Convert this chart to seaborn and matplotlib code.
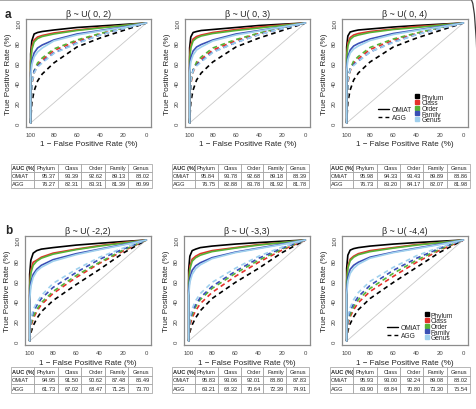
import matplotlib
matplotlib.use("Agg")
import matplotlib.pyplot as plt
from matplotlib.lines import Line2D
from matplotlib.patches import FancyBboxPatch
from matplotlib.transforms import IdentityTransform
import seaborn as sns

# ---- data -------------------------------------------------------------
ranks = ["Phylum", "Class", "Order", "Family", "Genus"]
rank_colors = ["#000000", "#E4312B", "#56B236", "#3A50B5", "#9FD0EE"]
titles = ["β ~ U( 0, 2)", "β ~ U( 0, 3)", "β ~ U( 0, 4)",
          "β ~ U( -2,2)", "β ~ U( -3,3)", "β ~ U( -4,4)"]

# 1 - false positive rate (%) at which the curves were read
spec = [100, 100, 99, 97, 94, 90, 80, 60, 40, 20, 0]

# true positive rate (%), one row per rank (Phylum..Genus)
omiat_a1 = [[0, 69, 82, 89, 90.5, 91.5, 93, 95.5, 97, 98.5, 100],
            [0, 62, 76, 83, 86, 87.5, 90, 93, 95.5, 97.5, 100],
            [0, 60, 73, 81, 84.5, 86.5, 89, 92.5, 95, 97.5, 100],
            [0, 50, 62, 70, 75, 78, 83, 89, 92.5, 96, 100],
            [0, 45, 58, 66, 71, 75, 82, 88, 92, 95.5, 100]]
agg_a1 = [[0, 0, 20, 32, 42, 49, 60, 76, 85, 92.5, 100],
          [0, 0, 38, 50, 58, 63, 72.5, 82, 89, 95, 100],
          [0, 0, 40, 52, 60, 65, 74, 83, 89.5, 95, 100],
          [0, 0, 42, 52, 57, 61, 70, 80, 88, 94.5, 100],
          [0, 0, 40, 50, 56, 60, 69.5, 79.5, 88, 94.5, 100]]

omiat_a2 = [[0, 75, 86, 90.5, 91.5, 92.5, 93.5, 95.5, 97.5, 98.8, 100],
            [0, 66, 78, 84, 86.5, 88, 90.5, 93.5, 96, 98, 100],
            [0, 63, 75, 82, 85, 87, 89.5, 92.5, 95, 97.5, 100],
            [0, 55, 65, 72, 76, 78.5, 83, 89, 92.5, 96, 100],
            [0, 50, 61, 68, 73, 76, 82, 88, 92, 96, 100]]
agg_a2 = [[0, 0, 21, 33, 43, 50, 61, 76, 85, 92.5, 100],
          [0, 0, 39, 51, 59, 64, 73, 82.5, 89.5, 95, 100],
          [0, 0, 41, 53, 61, 66, 75, 83.5, 90, 95.5, 100],
          [0, 0, 43, 53, 58, 62, 71, 80.5, 88.5, 94.5, 100],
          [0, 0, 42, 52, 57, 61, 70.5, 80.5, 88.5, 94.5, 100]]

omiat_a3 = [[0, 76, 87, 91, 92, 93, 94, 96, 97.5, 98.8, 100],
            [0, 68, 80, 85.5, 88, 89.5, 91.5, 94, 96.5, 98, 100],
            [0, 65, 77, 83.5, 86.5, 88, 90.5, 93.5, 95.5, 97.8, 100],
            [0, 56, 66, 73, 77, 79.5, 84, 89.5, 93, 96.5, 100],
            [0, 52, 63, 70, 74, 77, 82.5, 88.5, 92.5, 96, 100]]
agg_a3 = [[0, 0, 21, 33, 43, 50, 61, 76, 85, 92.5, 100],
          [0, 0, 40, 52, 60, 64.5, 73.5, 83, 89.5, 95, 100],
          [0, 0, 42, 54, 62, 66.5, 75.5, 84, 90, 95.5, 100],
          [0, 0, 44, 54, 58.5, 62, 71, 81, 88.5, 94.5, 100],
          [0, 0, 43, 53, 57.5, 61.5, 71, 80.5, 88.5, 94.5, 100]]

omiat_b1 = [[0, 66, 80, 87, 89.5, 91, 92.5, 95, 96.8, 98.5, 100],
            [0, 55, 70, 78, 80, 83, 87, 91, 94.5, 97.5, 100],
            [0, 52, 67, 75, 79, 82, 86, 90.5, 94, 97, 100],
            [0, 45, 58, 66, 71, 75, 80.5, 86.5, 91, 95.5, 100],
            [0, 40, 54, 63, 69, 73, 79, 85.5, 90.5, 95, 100]]
agg_b1 = [[0, 0, 8, 15, 22, 29, 40, 56, 71, 87, 100],
          [0, 0, 14, 22, 29, 36, 47, 63, 77, 89, 100],
          [0, 0, 16, 24, 31, 38, 49, 65, 78, 90, 100],
          [0, 0, 20, 28, 35, 42, 53, 68, 81, 91, 100],
          [0, 0, 22, 31, 38, 45, 57, 71, 83, 92, 100]]

omiat_b2 = [[0, 70, 84, 89.5, 91, 92.5, 94, 96, 97.5, 98.8, 100],
            [0, 60, 74, 81, 84, 86.5, 89.5, 92.5, 95.5, 97.5, 100],
            [0, 57, 71, 79, 82.5, 85, 88.5, 92, 95, 97.5, 100],
            [0, 50, 62, 70, 74.5, 77.5, 82.5, 88, 92, 96, 100],
            [0, 45, 58, 66, 71.5, 75.5, 81.5, 87.5, 91.5, 95.5, 100]]
agg_b2 = [[0, 0, 9, 16, 23, 30, 42, 58, 72, 87.5, 100],
          [0, 0, 15, 23, 30, 37, 48, 64, 78, 90, 100],
          [0, 0, 18, 26, 34, 41, 52, 67, 80, 91, 100],
          [0, 0, 21, 29, 36, 43, 54, 69, 82, 92, 100],
          [0, 0, 23, 32, 40, 47, 58, 72, 84, 93, 100]]

omiat_b3 = [[0, 72, 85, 90, 91.5, 92.5, 94, 96, 97.5, 98.8, 100],
            [0, 60, 74, 81, 84, 86.5, 89.5, 92.5, 95.5, 97.5, 100],
            [0, 58, 72, 79.5, 83, 85.5, 88.5, 92, 95, 97.5, 100],
            [0, 51, 63, 71, 75, 78, 83, 88, 92, 96, 100],
            [0, 46, 59, 67, 72, 76, 82, 87.5, 91.5, 95.5, 100]]
agg_b3 = [[0, 0, 10, 17, 24, 31, 42, 58, 73, 88, 100],
          [0, 0, 16, 24, 31, 38, 49, 64, 78, 90, 100],
          [0, 0, 18, 26, 34, 41, 52, 67, 80, 91, 100],
          [0, 0, 22, 30, 37, 44, 55, 70, 82, 92, 100],
          [0, 0, 24, 33, 41, 48, 59, 73, 84.5, 93, 100]]

# AUC tables
auc_omiat = [[95.37, 93.39, 92.62, 89.13, 88.02],
             [95.84, 93.78, 92.68, 89.18, 88.39],
             [95.98, 94.33, 93.43, 89.89, 88.86],
             [94.95, 91.50, 90.62, 87.48, 86.49],
             [95.83, 93.06, 92.01, 88.80, 87.83],
             [95.93, 93.00, 92.24, 89.08, 88.02]]
auc_agg = [[76.27, 82.31, 83.31, 81.39, 80.99],
           [76.75, 82.88, 83.78, 81.92, 81.78],
           [76.73, 83.20, 84.17, 82.07, 81.98],
           [61.73, 67.02, 68.47, 71.25, 73.70],
           [63.21, 68.32, 70.64, 72.39, 74.91],
           [63.90, 68.84, 70.80, 73.30, 75.54]]

omiat_all = [omiat_a1, omiat_a2, omiat_a3, omiat_b1, omiat_b2, omiat_b3]
agg_all = [agg_a1, agg_a2, agg_a3, agg_b1, agg_b2, agg_b3]

# ---- layout (pixels: left, right, top, bottom) -------------------------
W, H = 477, 410
plot_boxes = [(26, 151, 20, 128), (185, 310, 20, 128), (342, 468, 20, 128),
              (25, 151, 237, 346), (184, 310, 237, 346), (342, 468, 237, 346)]
table_boxes = [(11, 152, 165, 189), (172, 309, 165, 189), (330, 470, 165, 189),
               (11, 152, 368, 394), (172, 309, 368, 394), (330, 470, 368, 394)]

sns.set_style("white")
plt.rcParams["font.family"] = ["Liberation Sans", "DejaVu Sans"]
table_font = ["Liberation Sans Narrow", "Liberation Sans", "DejaVu Sans"]

fig = plt.figure(figsize=(W / 100, H / 100), dpi=100)


def px_rect(l, r, t, b):
    return [l / W, 1 - b / H, (r - l) / W, (b - t) / H]


dash = (0, (2.8, 2.2))

for i in range(6):
    ax = fig.add_axes(px_rect(*plot_boxes[i]))
    ax.plot([100, 0], [0, 100], color="#c8c8c8", lw=0.6, zorder=1)
    for k in range(5):
        sns.lineplot(x=spec, y=omiat_all[i][k], estimator=None, sort=False,
                     color=rank_colors[k], lw=1.2, ax=ax, zorder=3)
    for k in range(5):
        sns.lineplot(x=spec, y=agg_all[i][k], estimator=None, sort=False,
                     color=rank_colors[k], lw=1.2, linestyle=dash, ax=ax, zorder=2)
    ax.set_xlim(104, -4)
    ax.set_ylim(-4, 104)
    ax.set_xticks([100, 80, 60, 40, 20, 0])
    ax.set_yticks([0, 20, 40, 60, 80, 100])
    ax.tick_params(labelsize=4.3, length=2, width=0.5, colors="#444444", pad=1.5)
    ax.tick_params(axis="y", labelrotation=90)
    for lab in ax.get_yticklabels():
        lab.set_va("center")
    for s in ax.spines.values():
        s.set_color("#8c8c8c")
        s.set_linewidth(0.9)
    ax.set_title(titles[i], fontsize=6.4, pad=2.5)
    ax.set_xlabel("1 − False Positive Rate (%)", fontsize=5.8)
    ax.set_ylabel("True Positive Rate (%)", fontsize=5.9)
    ax.xaxis.set_label_coords(0.5, -0.125)
    ax.yaxis.set_label_coords(-0.11, 0.5)

    if i in (2, 5):
        shift = 0.0 if i == 2 else 0.075
        m_handles = [Line2D([], [], color="black", lw=1.0),
                     Line2D([], [], color="black", lw=1.0, linestyle=dash)]
        leg1 = ax.legend(m_handles, ["OMiAT", "AGG"], loc="center left",
                         bbox_to_anchor=(0.285 + shift, 0.125), frameon=False,
                         fontsize=4.8, handlelength=1.6, handletextpad=0.45,
                         labelspacing=0.15, borderpad=0, borderaxespad=0)
        ax.add_artist(leg1)
        r_handles = [Line2D([], [], color=c, marker="s", markersize=2.2, lw=0)
                     for c in rank_colors]
        ax.legend(r_handles, ranks, loc="center left",
                  bbox_to_anchor=(0.58 + shift, 0.17), frameon=False,
                  fontsize=4.8, handlelength=0.6, handletextpad=0.35,
                  labelspacing=-0.2, borderpad=0, borderaxespad=0)

    # table of AUCs below each panel
    tax = fig.add_axes(px_rect(*table_boxes[i]))
    tax.axis("off")
    rows = [["AUC (%)"] + ranks,
            ["OMiAT"] + [f"{v:.2f}" for v in auc_omiat[i]],
            ["AGG"] + [f"{v:.2f}" for v in auc_agg[i]]]
    tb = tax.table(cellText=rows, bbox=[0, 0, 1, 1], cellLoc="right")
    tb.auto_set_font_size(False)
    for (r, c), cell in tb.get_celld().items():
        cell.set_edgecolor("#9a9a9a")
        cell.set_linewidth(0.5)
        cell.PAD = 0.1
        txt = cell.get_text()
        txt.set_fontsize(4.1)
        txt.set_fontfamily(table_font)
        if c == 0:
            cell._loc = "left"
            txt.set_ha("left")
            cell.PAD = 0.04
        if r == 0 and c == 0:
            txt.set_fontweight("bold")

fig.text(5 / W, 1 - 15 / H, "a", fontsize=8.5, fontweight="bold", va="center")
fig.text(5 / W, 1 - 231 / H, "b", fontsize=8.5, fontweight="bold", va="center")

# frame of the original figure (only its top edge and corner are inside)
frame = FancyBboxPatch((-10, -10), 491, H + 10 - 0.8,
                       boxstyle="round,pad=0,rounding_size=10",
                       transform=IdentityTransform(), fill=False,
                       edgecolor="#3a3a3a", lw=0.9)
fig.patches.append(frame)

fig.savefig("out.png", dpi=100)
